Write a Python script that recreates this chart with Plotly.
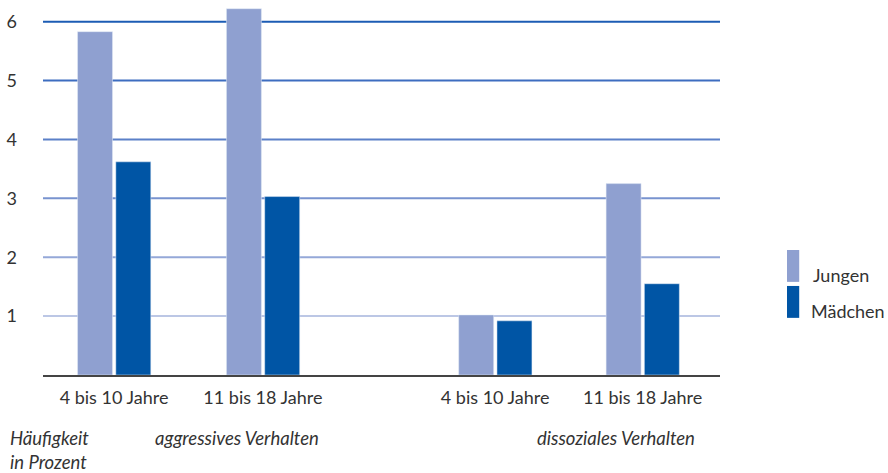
import plotly.graph_objects as go

# data
age_groups = ['4 bis 10 Jahre', '11 bis 18 Jahre', '4 bis 10 Jahre', '11 bis 18 Jahre']
jungen = [5.83, 6.22, 1.02, 3.25]
maedchen = [3.62, 3.03, 0.92, 1.55]
y_ticks = [1, 2, 3, 4, 5, 6]

# layout helpers (positions / styles)
x_pos = [0, 1, 2.56, 3.55]
grid_colors = ['#bcc7e5', '#95a8d8', '#7893cf', '#5b80c8', '#3d6dc0', '#1c5cb4']
col_j = '#8fa0d0'
col_m = '#0055a5'
FONT = 'Lato, Open Sans, sans-serif'
TXT = '#333333'

fig = go.Figure()
fig.add_trace(go.Bar(x=x_pos, y=jungen, name='Jungen', marker_color=col_j,
                     width=0.235, offset=-0.245))
fig.add_trace(go.Bar(x=x_pos, y=maedchen, name='Mädchen', marker_color=col_m,
                     width=0.235, offset=0.012))

# gradient gridlines
for t, c in zip(y_ticks, grid_colors):
    fig.add_shape(type='line', xref='paper', yref='y', x0=0, x1=1, y0=t, y1=t,
                  line=dict(color=c, width=2), layer='below')

# custom legend
for i, (name, col) in enumerate([('Jungen', col_j), ('Mädchen', col_m)]):
    top = 0.337 - i * 0.097
    fig.add_shape(type='rect', xref='paper', yref='paper', x0=1.099, x1=1.117,
                  y0=top - 0.086, y1=top, fillcolor=col, line_width=0)
    fig.add_annotation(xref='paper', yref='paper', x=1.135 - i * 0.003, y=top - 0.067,
                       text=name, showarrow=False, xanchor='left', yanchor='middle',
                       font=dict(family=FONT, size=18, color=TXT))

ann = dict(xref='paper', yref='paper', showarrow=False, yanchor='middle',
           font=dict(family=FONT, size=18.5, color=TXT, style='italic'))
fig.add_annotation(x=-0.052, y=-0.17, text='Häufigkeit', xanchor='left', **ann)
fig.add_annotation(x=-0.052, y=-0.235, text='in Prozent', xanchor='left', **ann)
fig.add_annotation(x=0.2866, y=-0.17, text='aggressives Verhalten', xanchor='center', **ann)
fig.add_annotation(x=0.966, y=-0.17, text='dissoziales Verhalten', xanchor='right', **ann)

fig.update_layout(
    width=888, height=473,
    margin=dict(l=43, r=168, t=4, b=98),
    plot_bgcolor='white', paper_bgcolor='white',
    showlegend=False,
    font=dict(family=FONT, size=18, color=TXT),
    xaxis=dict(range=[-0.477, 4.07], tickmode='array', tickvals=x_pos, ticktext=age_groups,
               showgrid=False, zeroline=False, showline=True, linecolor='#444444',
               linewidth=2, ticks='', ticklabelstandoff=5,
               tickfont=dict(family=FONT, size=18, color=TXT)),
    yaxis=dict(range=[0, 6.3], tickmode='array', tickvals=y_ticks, showgrid=False,
               zeroline=False, showline=False, ticks='', ticklabelstandoff=25,
               tickfont=dict(family=FONT, size=18, color=TXT)),
)

fig.write_html('out.html', config={'displayModeBar': False},
               post_script="document.body.style.margin='0';")
